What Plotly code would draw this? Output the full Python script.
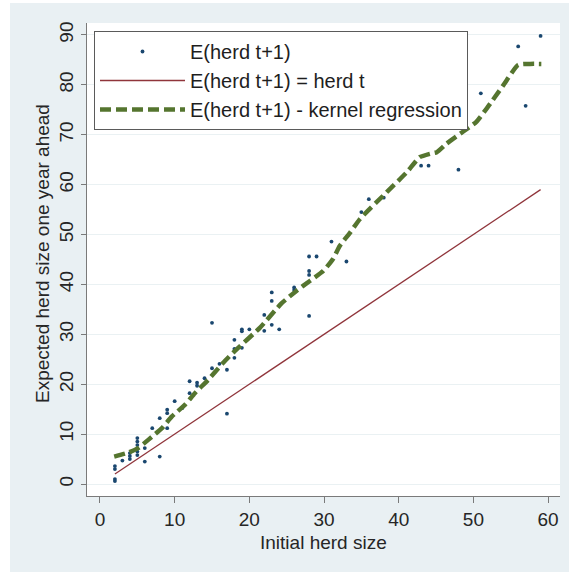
import plotly.graph_objects as go

# Scatter: observed expected herd size one year ahead
scatter_x = [2, 2, 2, 2, 3, 4, 4, 4, 5, 5, 5, 5, 5, 6, 6, 7, 8, 8, 9, 9, 9, 10, 11,
             12, 12, 13, 13, 14, 15, 15, 16, 17, 17, 18, 18, 18, 19, 19, 19, 20,
             22, 22, 23, 23, 23, 24, 26, 26, 28, 28, 28, 28, 29, 31, 33, 35, 36, 38,
             43, 44, 48, 51, 56, 57, 59]
scatter_y = [0.6, 1.0, 3.0, 3.6, 4.7, 5.0, 5.6, 6.2, 5.8, 6.5, 7.8, 8.5, 9.2, 4.5, 7.2, 11.2, 5.5, 13.2, 11.2, 14.2, 14.9, 16.6, 15.2,
             18.2, 20.6, 19.7, 20.3, 21.2, 23.2, 32.3, 24.1, 14.1, 22.9, 25.3, 27.1, 28.9, 27.3, 30.6, 31.0, 31.0,
             30.7, 33.9, 31.9, 36.7, 38.4, 31.0, 38.9, 39.4, 33.7, 41.9, 42.7, 45.6, 45.6, 48.6, 44.6, 54.5, 57.1, 57.4,
             63.8, 63.8, 63.0, 78.3, 87.7, 75.8, 89.8]

# 45-degree reference line
ref_x = [2, 59]
ref_y = [2, 59]

# Kernel regression curve
kern_x = [1.9, 3.8, 5.1, 6.5, 8.3, 9.6, 11.4, 12.7, 14.5, 16.5, 18.0, 21.4, 24.3, 26.3, 28.1, 29.9,
          31.2, 32.1, 33.5, 34.8, 38.4, 41.1, 42.8, 44.2, 45.1, 46.4, 48.6, 50.4, 51.8, 54.0, 56.0, 57.6, 59.1]
kern_y = [5.5, 6.3, 7.2, 8.9, 11.2, 13.5, 15.9, 18.2, 20.9, 24.3, 26.6, 31.3, 36.2, 38.7, 40.7, 42.7,
          45.1, 47.7, 50.4, 53.1, 58.5, 62.5, 65.5, 66.2, 66.5, 68.2, 70.6, 72.6, 75.3, 79.9, 84.0, 84.2, 84.2]

x_ticks = [0, 10, 20, 30, 40, 50, 60]
y_ticks = [0, 10, 20, 30, 40, 50, 60, 70, 80, 90]

labels = ["E(herd t+1)", "E(herd t+1) = herd t", "E(herd t+1) - kernel regression"]

FONT = "Liberation Sans, Arial, sans-serif"
BG = "#e9f0f3"

fig = go.Figure()
fig.add_trace(go.Scatter(x=scatter_x, y=scatter_y, mode="markers", name=labels[0],
                         marker=dict(color="#1a476f", size=3.8, line=dict(width=0))))
fig.add_trace(go.Scatter(x=ref_x, y=ref_y, mode="lines", name=labels[1],
                         line=dict(color="#90353b", width=1.3)))
fig.add_trace(go.Scatter(x=kern_x, y=kern_y, mode="lines", name=labels[2],
                         line=dict(color="#55752f", width=4.5, dash="11px,5px", shape="spline", smoothing=0.5)))

L, R, T, B = 87, 9, 23, 76
W, H = 569, 572
pw, ph = W - L - R, H - T - B

def px_x(p):
    return (p - L) / pw

def px_y(q):
    return (H - B - q) / ph

fig.update_layout(
    width=W, height=H,
    margin=dict(l=L, r=R, t=T, b=B, pad=0),
    paper_bgcolor=BG, plot_bgcolor="white",
    font=dict(family=FONT, size=19, color="#262626"),
    showlegend=True,
    legend=dict(x=px_x(94), y=px_y(31), xanchor="left", yanchor="top",
                bgcolor="white", bordercolor="#5a5a5a", borderwidth=1,
                font=dict(size=20, color="#1e1e1e"), itemwidth=85, tracegroupgap=0),
    xaxis=dict(range=[-1.74, 61.6], tickvals=x_ticks, showgrid=False, zeroline=False,
               showline=True, linecolor="#7a7a7a", linewidth=1,
               ticks="outside", ticklen=6, tickcolor="#7a7a7a", tickwidth=1,
               tickfont=dict(size=19, color="#262626")),
    yaxis=dict(range=[-2.4, 92.4], tickvals=y_ticks, showgrid=True, gridcolor="#eaf1f3", gridwidth=1,
               zeroline=False, showline=True, linecolor="#7a7a7a", linewidth=1,
               ticks="outside", ticklen=5, tickcolor="#7a7a7a", tickwidth=1, tickangle=-90,
               tickfont=dict(size=19, color="#262626")),
    shapes=[
        dict(type="rect", xref="paper", yref="paper", x0=px_x(0), x1=px_x(10), y0=px_y(H), y1=px_y(0),
             fillcolor="white", line=dict(width=0), layer="below"),
        dict(type="rect", xref="paper", yref="paper", x0=px_x(0), x1=px_x(W), y0=px_y(3), y1=px_y(0),
             fillcolor="white", line=dict(width=0), layer="below"),
    ],
    annotations=[
        dict(text="Initial herd size", xref="paper", yref="paper", x=px_x(323), y=px_y(542),
             xanchor="center", yanchor="middle", showarrow=False, font=dict(size=19, color="#262626")),
        dict(text="Expected herd size one year ahead", xref="paper", yref="paper", x=px_x(42), y=px_y(254),
             xanchor="center", yanchor="middle", textangle=-90, showarrow=False,
             font=dict(size=19, color="#262626")),
    ],
)

fig.write_html("out.html")
